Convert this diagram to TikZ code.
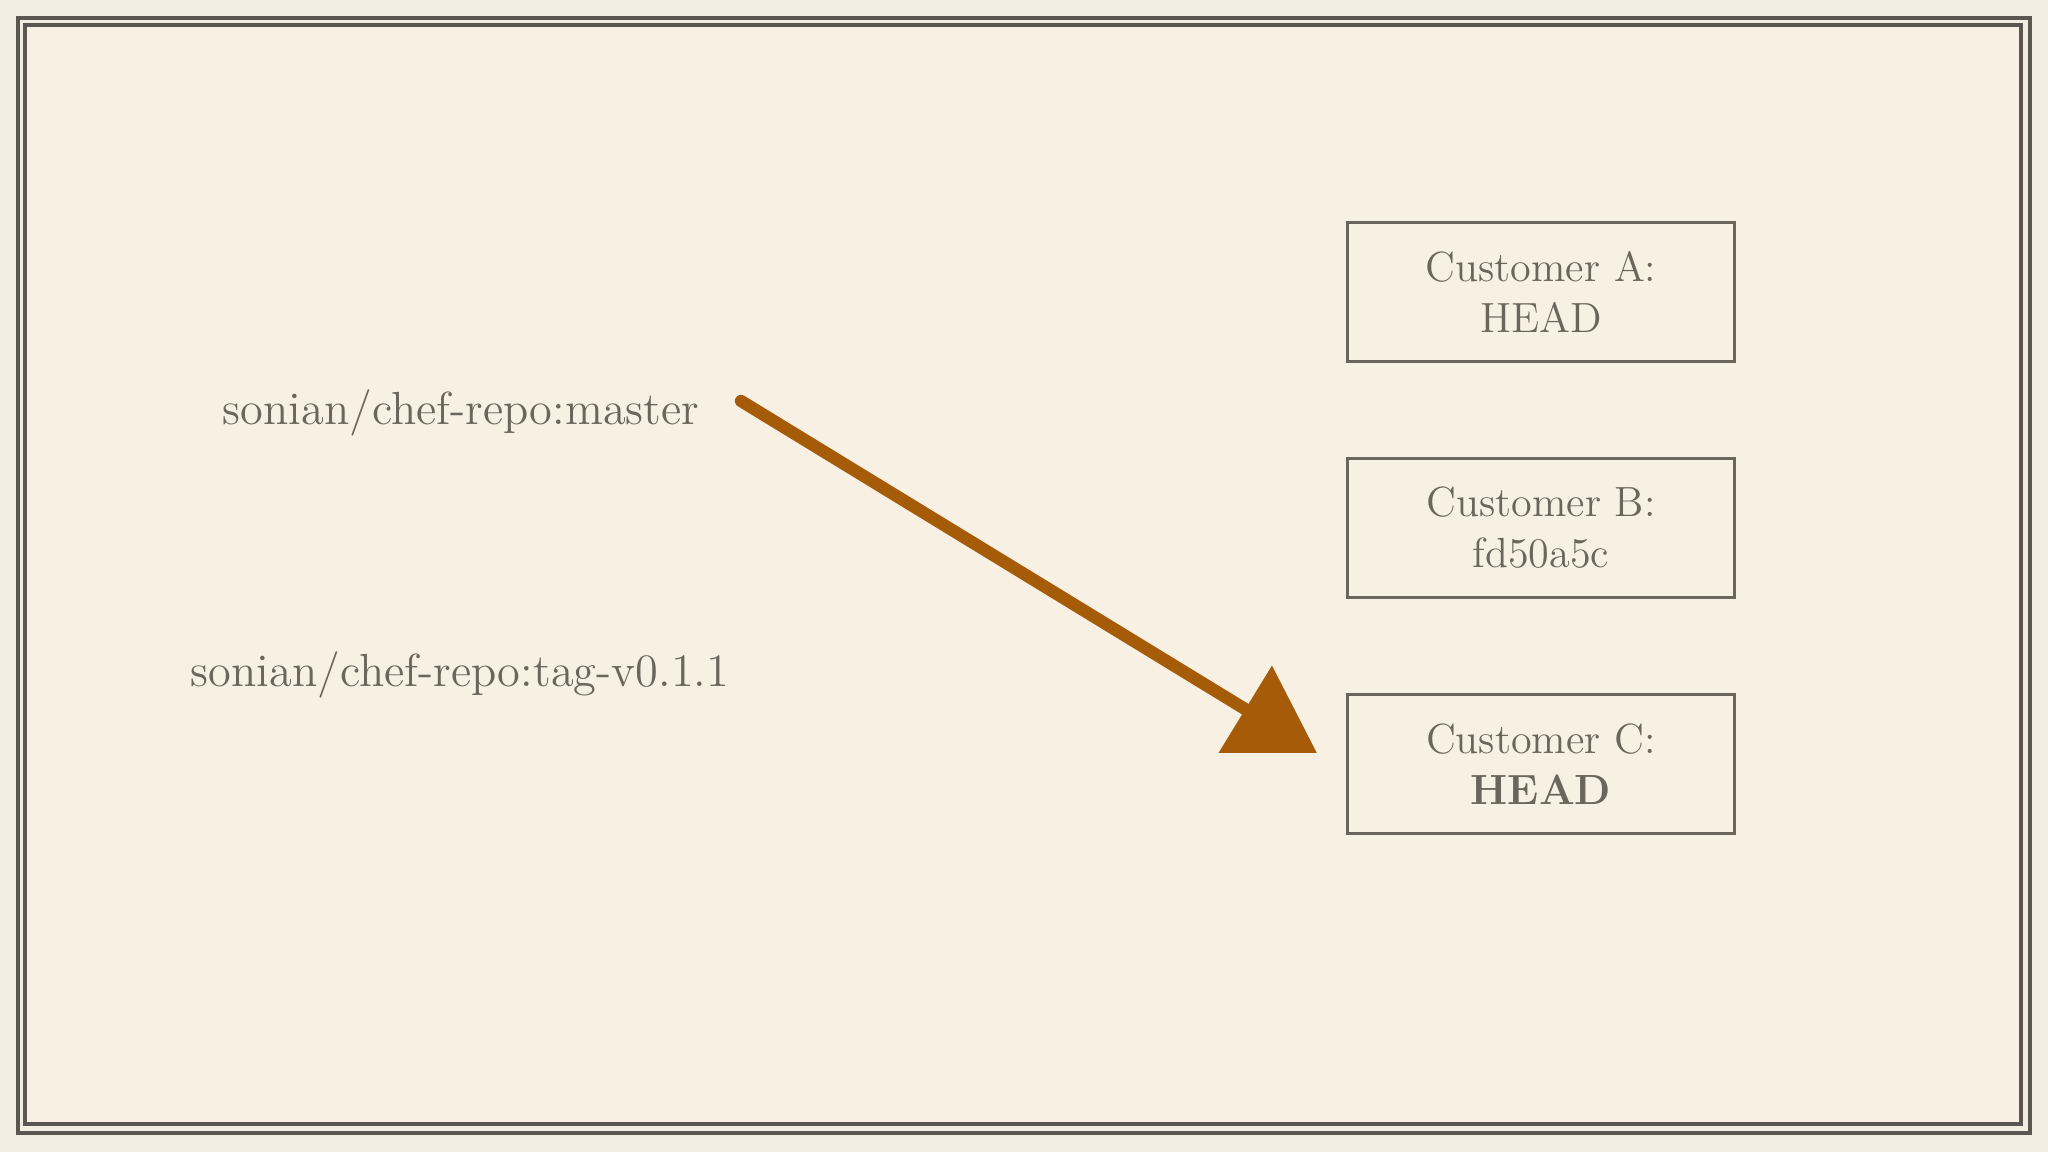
\documentclass[tikz,border=0pt]{standalone}
\usepackage{tikz}
\usetikzlibrary{arrows.meta}
\definecolor{paper}{HTML}{F7F0E3}
\definecolor{paperedge}{HTML}{F2EDE1}
\definecolor{ink}{HTML}{6B655C}
\definecolor{frameink}{HTML}{5A5752}
\definecolor{rust}{HTML}{A65B08}
\tikzset{
	custbox/.style={draw=ink,line width=0.7pt,minimum width=3.87cm,minimum height=1.39cm,
		align=center,text=ink,font=\fontsize{12}{14.5}\selectfont},
	reflabel/.style={text=ink,font=\fontsize{13.2}{15}\selectfont}
}
\newcommand{\mkcust}[4]{% #1: name, #2: x, #3: y, #4: text
	\node[custbox] (#1) at (#2,#3) {#4};
}
\begin{document}
\begin{tikzpicture}[x=0.01cm,y=-0.01cm]
					% Paper and frame
					\fill[paperedge] (0,0) rectangle (2048,1152);
					\useasboundingbox (0,0) rectangle (2048,1152);
					\fill[paper] (25,25) rectangle (2021,1124);
					\draw[frameink,line width=1pt] (18,18) rectangle (2030,1133);
					\draw[frameink,line width=1.4pt] (25,25) rectangle (2021,1124);
					
					% Refs on the left
					\node[reflabel] (master) at (461,413) {sonian/chef-repo:master};
					\node[reflabel] (tag) at (460,675) {sonian/chef-repo:tag-v0.1.1};
					
					% Customer boxes
					\mkcust{custA}{1541}{292}{Customer A:\\HEAD}
					\mkcust{custB}{1541}{528}{Customer B:\\fd50a5c}
					\mkcust{custC}{1541}{764}{Customer C:\\\textbf{HEAD}}
					
					% The brush arrow
					\coordinate (brushstart) at (741,401);
					\coordinate (brushtip) at (1317,753);
					\draw[rust,line width=3.5pt,line cap=round,
						-{Triangle[length=0.84cm,width=0.99cm]}] (brushstart) -- (brushtip);
				\end{tikzpicture}
\end{document}
